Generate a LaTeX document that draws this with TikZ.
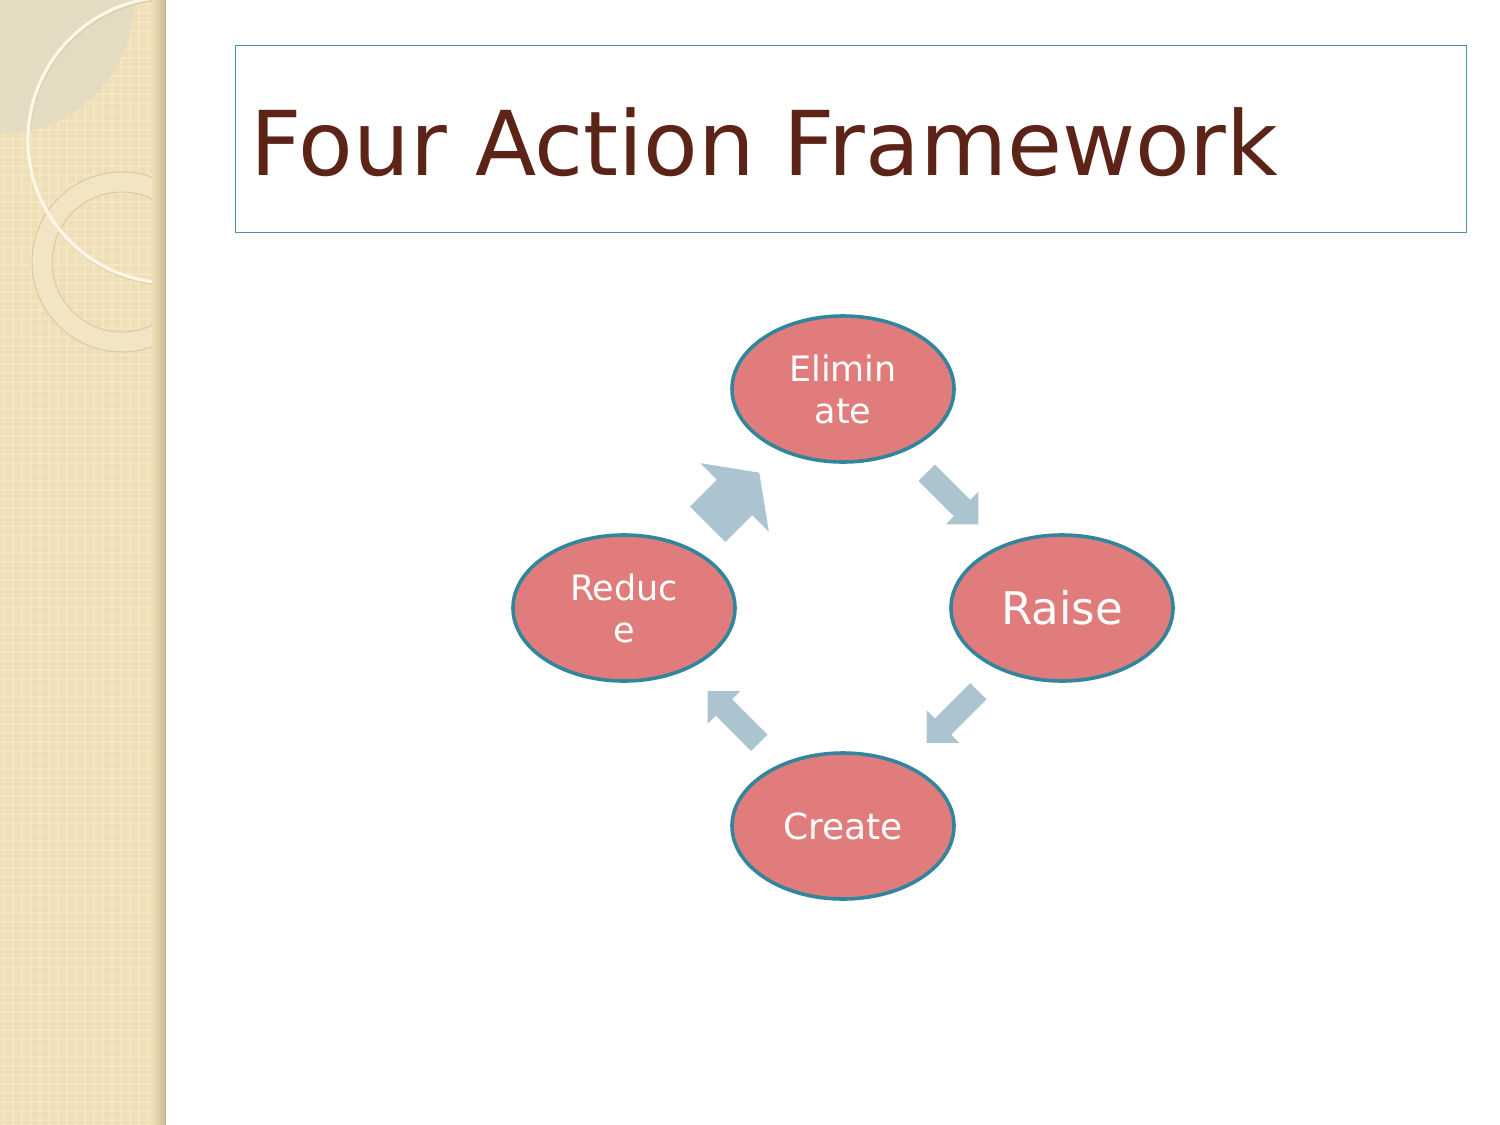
\documentclass[tikz,border=0pt]{standalone}
\usepackage{fontspec}
\setmainfont{DejaVu Sans}
\usetikzlibrary{shapes.geometric,calc}
\definecolor{panelbeige}{HTML}{EEDFB7}
\definecolor{panelgrey}{HTML}{E4DAC5}
\definecolor{panelgrid}{HTML}{F2E6C4}
\definecolor{paneledge}{HTML}{CDBD96}
\definecolor{ringfill}{HTML}{F1E5C4}
\definecolor{ringedge}{HTML}{DACAA0}
\definecolor{arccream}{HTML}{FCF7E8}
\definecolor{titleborder}{HTML}{4A90A2}
\definecolor{titletext}{HTML}{5C2417}
\definecolor{ovalfill}{HTML}{E07C7B}
\definecolor{ovaledge}{HTML}{31869D}
\definecolor{arrowfill}{HTML}{ABC4D0}
\tikzset{
  oval/.style={ellipse, draw=ovaledge, fill=ovalfill, line width=1.8pt,
    minimum width=111pt, minimum height=73pt, inner sep=0pt,
    text=white, align=center},
  smalltxt/.style={font=\fontsize{17.5}{21}\selectfont},
  blockarrow/.style={fill=arrowfill},
  gridline/.style={panelgrid, line width=0.6pt}
}
% #1 centre, #2 angle, #3 length, #4 shaft width, #5 head width, #6 head length
\newcommand{\blkarrow}[6]{%
  \begin{scope}[shift={#1},rotate=#2]
    \fill[blockarrow] ({-#3/2},{-#4/2}) -- ({#3/2-#6},{-#4/2}) -- ({#3/2-#6},{-#5/2})
      -- ({#3/2},0) -- ({#3/2-#6},{#5/2}) -- ({#3/2-#6},{#4/2}) -- ({-#3/2},{#4/2}) -- cycle;
  \end{scope}}
\begin{document}
\begin{tikzpicture}[x=0.5pt,y=-0.5pt]
\useasboundingbox (0,0) rectangle (1500,1125);
\fill[white] (0,0) rectangle (1500,1125);
% left decorative panel
\begin{scope}
  \clip (0,0) rectangle (165,1125);
  \fill[panelbeige] (0,0) rectangle (165,1125);
  \foreach \gx in {4,13,...,165} {\draw[gridline] (\gx,0) -- (\gx,1125);}
  \foreach \gy in {4,13,...,1125} {\draw[gridline] (0,\gy) -- (165,\gy);}
  \fill[panelgrey, opacity=0.85] (0,0) circle[radius=134];
  \fill[ringfill, even odd rule, draw=ringedge, line width=0.5pt]
    (122,262) circle[radius=90] (122,262) circle[radius=70];
  \draw[ringedge!70!panelbeige, line width=1.2pt] (172,142) circle[radius=143];
  \draw[arccream, line width=1.6pt] (171,140) circle[radius=143];
  \shade[left color=panelbeige, right color=paneledge] (152,0) rectangle (165,1125);
\end{scope}
\draw[paneledge!80!gray, line width=0.8pt] (165.5,0) -- (165.5,1125);
% title
\node[draw=titleborder, line width=0.6pt, minimum width=615.5pt, minimum height=93.5pt,
  inner sep=0pt, anchor=north west] (titlebox) at (235,45) {};
\node[anchor=base west, inner sep=0pt, text=titletext,
  font=\fontsize{44.7}{54}\selectfont] (title) at (250,175) {Four Action Framework};
% cycle
\node[oval, smalltxt] (elim) at (843,389) {Elimin\\ate};
\node[oval, font=\fontsize{22.5}{27}\selectfont] (raise) at (1062,608) {Raise};
\node[oval, font=\fontsize{18}{22}\selectfont] (create) at (843,826) {Create};
\node[oval, smalltxt] (reduce) at (624,608) {Reduc\\e};
% block arrows between the ovals
\blkarrow{($(reduce)!0.5!(elim)$)}{45}{73}{50}{97}{35}
\blkarrow{($(elim)!0.5!(raise)$)}{-45}{73}{23}{46}{23}
\blkarrow{($(raise)!0.5!(create)$)}{-135}{73}{23}{46}{23}
\blkarrow{($(create)!0.5!(reduce)$)}{135}{73}{23}{46}{23}
\end{tikzpicture}
\end{document}
